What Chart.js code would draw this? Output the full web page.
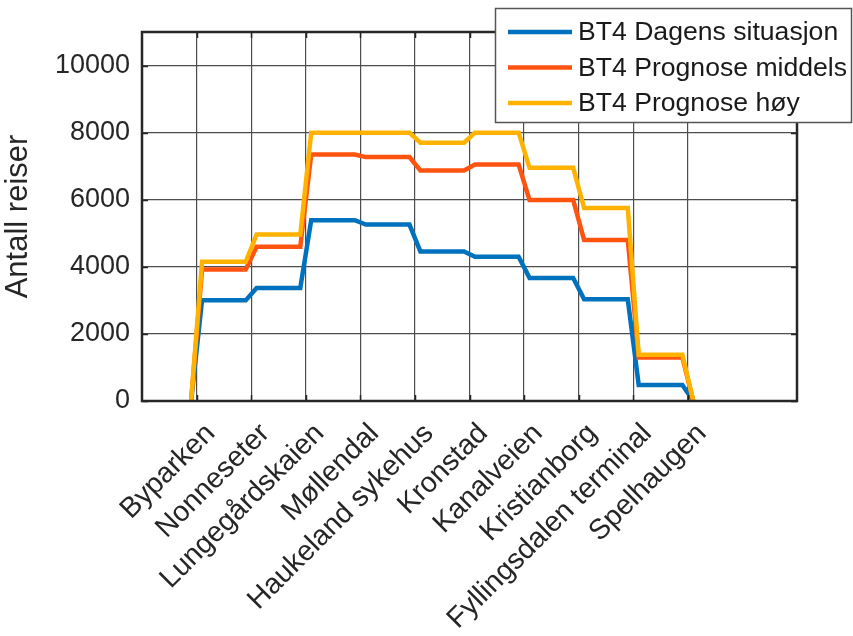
<!DOCTYPE html>
<html>
<head>
<meta charset="utf-8">
<script src="https://cdn.jsdelivr.net/npm/chart.js@4.4.1/dist/chart.umd.min.js"></script>
<style>
    html, body { margin: 0; padding: 0; background: #fff; }
    #wrap { width: 853px; height: 636px; position: relative; }
</style>
</head>
<body>
<div id="wrap"><canvas id="chart"></canvas></div>
<script>
// ==========================================
// DATA
// ==========================================
const stations = ['Byparken', 'Nonneseter', 'Lungegårdskaien', 'Møllendal', 'Haukeland sykehus',
    'Kronstad', 'Kanalveien', 'Kristianborg', 'Fyllingsdalen terminal', 'Spelhaugen'];

// load on each stretch between station i and i+1
const dagens = [3000, 3370, 5390, 5260, 4460, 4300, 3670, 3030, 480];
const middels = [3920, 4600, 7350, 7270, 6870, 7050, 5990, 4800, 1300];
const hoy = [4150, 4960, 8000, 8000, 7700, 8000, 6950, 5750, 1380];

const seriesNames = ['BT4 Dagens situasjon', 'BT4 Prognose middels', 'BT4 Prognose høy'];
const yTicks = [0, 2000, 4000, 6000, 8000, 10000];

const RAMP = 0.1; // half width of the slope around each stop

const colors = ['#0072BD', '#FF5310', '#FFB300'];
const FONT = '"Liberation Sans", Arial, sans-serif';

// build the stepped line: flat between stops, short ramp at each stop
function stepPoints(vals) {
    const pts = [{ x: 1 - RAMP, y: 0 }];
    vals.forEach((v, i) => {
        pts.push({ x: i + 1 + RAMP, y: v });
        pts.push({ x: i + 2 - RAMP, y: v });
    });
    pts.push({ x: stations.length + RAMP, y: 0 });
    return pts;
}

// ==========================================
// PLUGINS: box, inward ticks, legend
// ==========================================
const boxPlugin = {
    id: 'box',
    afterDatasetsDraw(chart) {
        const { ctx, chartArea: a, scales } = chart;
        ctx.save();
        ctx.strokeStyle = '#262626';
        ctx.lineWidth = 1.5;
        const t = 6;
        ctx.beginPath();
        scales.y.ticks.forEach(tk => {
            const y = Math.round(scales.y.getPixelForValue(tk.value)) + 0.5;
            ctx.moveTo(a.left, y); ctx.lineTo(a.left + t, y);
            ctx.moveTo(a.right, y); ctx.lineTo(a.right - t, y);
        });
        scales.x.ticks.forEach(tk => {
            const x = Math.round(scales.x.getPixelForValue(tk.value)) + 0.5;
            ctx.moveTo(x, a.bottom); ctx.lineTo(x, a.bottom - t);
            ctx.moveTo(x, a.top); ctx.lineTo(x, a.top + t);
        });
        ctx.stroke();
        ctx.lineWidth = 2.5;
        ctx.strokeRect(a.left, a.top, a.right - a.left, a.bottom - a.top);
        ctx.restore();
    }
};

const legendPlugin = {
    id: 'mlLegend',
    afterDraw(chart) {
        const { ctx } = chart;
        ctx.save();
        ctx.fillStyle = '#fff';
        ctx.fillRect(495, 8, 357, 115);
        ctx.strokeStyle = '#555';
        ctx.lineWidth = 1.5;
        ctx.strokeRect(495.5, 8.5, 356, 114);
        ctx.font = '26.6px ' + FONT;
        ctx.textBaseline = 'middle';
        seriesNames.forEach((name, i) => {
            const y = 32 + i * 35.5;
            ctx.strokeStyle = colors[i];
            ctx.lineWidth = 4.5;
            ctx.beginPath();
            ctx.moveTo(508, y);
            ctx.lineTo(572, y);
            ctx.stroke();
            ctx.fillStyle = '#1a1a1a';
            ctx.fillText(name, 578, y + 1);
        });
        ctx.restore();
    }
};

// ==========================================
// CHART
// ==========================================
const ctx = document.getElementById('chart').getContext('2d');
new Chart(ctx, {
    type: 'line',
    data: {
        datasets: [dagens, middels, hoy].map((vals, i) => ({
            label: seriesNames[i],
            data: stepPoints(vals),
            borderColor: colors[i],
            borderWidth: 4.5,
            pointRadius: 0,
            fill: false,
            tension: 0,
            order: 2 - i
        }))
    },
    options: {
        responsive: true,
        maintainAspectRatio: false,
        animation: false,
        layout: { padding: { left: 0, right: 56, top: 32, bottom: 0 } },
        plugins: {
            legend: { display: false },
            tooltip: { enabled: false }
        },
        scales: {
            x: {
                type: 'linear',
                min: 0,
                max: 12,
                afterBuildTicks: s => { s.ticks = stations.map((_, i) => ({ value: i + 1 })); },
                afterFit: s => { s.height = 235; },
                grid: { color: '#4d4d4d', lineWidth: 1.2, drawTicks: false },
                border: { display: false },
                ticks: {
                    autoSkip: false,
                    minRotation: 45,
                    maxRotation: 45,
                    padding: 16,
                    labelOffset: 14,
                    color: '#262626',
                    font: { family: FONT, size: 28.5 },
                    callback: v => stations[v - 1] || ''
                }
            },
            y: {
                min: 0,
                max: 11000,
                afterBuildTicks: s => { s.ticks = yTicks.map(v => ({ value: v })); },
                afterFit: s => { s.width = 142; },
                grid: { color: '#4d4d4d', lineWidth: 1.2, drawTicks: false },
                border: { display: false },
                ticks: {
                    padding: 12,
                    color: '#262626',
                    font: { family: FONT, size: 27 },
                    callback: v => String(v)
                },
                title: {
                    display: true,
                    text: 'Antall reiser',
                    color: '#262626',
                    padding: { top: 0, bottom: 0 },
                    font: { family: FONT, size: 31 }
                }
            }
        }
    },
    plugins: [boxPlugin, legendPlugin]
});
</script>
</body>
</html>
